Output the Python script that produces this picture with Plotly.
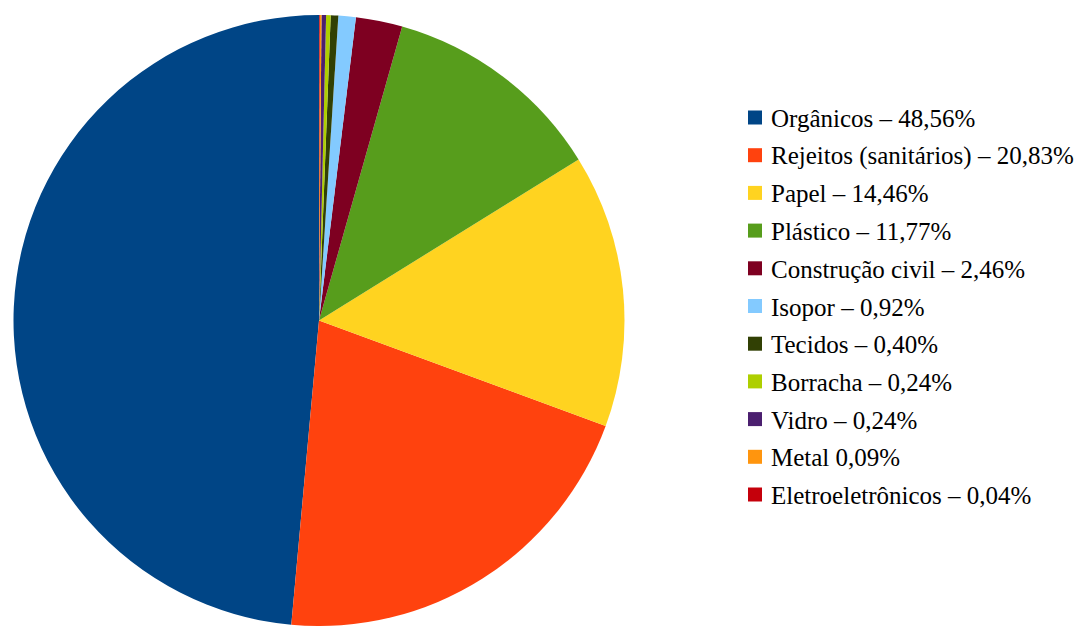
import plotly.graph_objects as go

categories = ["Orgânicos", "Rejeitos (sanitários)", "Papel", "Plástico", "Construção civil",
              "Isopor", "Tecidos", "Borracha", "Vidro", "Metal", "Eletroeletrônicos"]
values = [48.56, 20.83, 14.46, 11.77, 2.46, 0.92, 0.40, 0.24, 0.24, 0.09, 0.04]
legend_labels = ["Orgânicos – 48,56%", "Rejeitos (sanitários) – 20,83%", "Papel – 14,46%",
                 "Plástico – 11,77%", "Construção civil – 2,46%", "Isopor – 0,92%",
                 "Tecidos – 0,40%", "Borracha – 0,24%", "Vidro – 0,24%", "Metal 0,09%",
                 "Eletroeletrônicos – 0,04%"]
colors = ["#004586", "#ff420e", "#ffd320", "#579d1c", "#7e0021", "#83caff",
          "#314004", "#aecf00", "#4b1f6f", "#ff950e", "#c5000b"]

W, H = 1088, 626
SERIF = "Liberation Serif"

# first slice placed counter-clockwise from 12 o'clock
first_angle = values[0] / sum(values) * 360.0

fig = go.Figure(go.Pie(
    labels=categories,
    values=values,
    marker=dict(colors=colors, line=dict(width=0)),
    sort=False,
    direction="counterclockwise",
    rotation=-first_angle,
    textinfo="none",
    hoverinfo="skip",
    showlegend=False,
    domain=dict(x=[13 / W, 625 / W], y=[0, 1 - 15 / H]),
))

# legend (serif text, square swatches)
row0, step = 117.5, 37.7
box = 14
for i, (lab, col) in enumerate(zip(legend_labels, colors)):
    yc = row0 + i * step
    fig.add_shape(type="rect", xref="paper", yref="paper",
                  x0=748 / W, x1=(748 + box) / W,
                  y0=1 - (yc + box / 2) / H, y1=1 - (yc - box / 2) / H,
                  fillcolor=col, line=dict(width=0))
    fig.add_annotation(xref="paper", yref="paper", x=769 / W, y=1 - (yc + 1) / H,
                       xanchor="left", yanchor="middle", showarrow=False,
                       text=lab, font=dict(family=SERIF, size=25, color="black"))

fig.update_layout(
    width=W, height=H,
    margin=dict(l=0, r=0, t=0, b=0),
    paper_bgcolor="white",
    plot_bgcolor="white",
    showlegend=False,
)

fig.write_html("out.html")
